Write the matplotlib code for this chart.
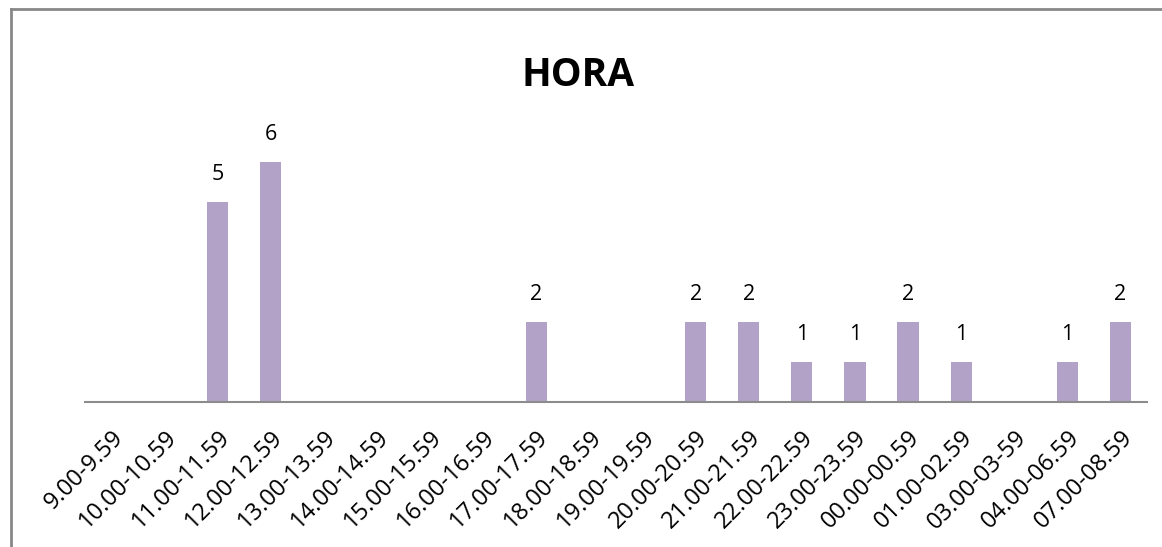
import matplotlib
matplotlib.use("Agg")
import matplotlib.pyplot as plt
from matplotlib.lines import Line2D

categories = ["9.00-9.59", "10.00-10.59", "11.00-11.59", "12.00-12.59", "13.00-13.59",
              "14.00-14.59", "15.00-15.59", "16.00-16.59", "17.00-17.59", "18.00-18.59",
              "19.00-19.59", "20.00-20.59", "21.00-21.59", "22.00-22.59", "23.00-23.59",
              "00.00-00.59", "01.00-02.59", "03.00-03-59", "04.00-06.59", "07.00-08.59"]
values = [0, 0, 5, 6, 0, 0, 0, 0, 2, 0, 0, 2, 2, 1, 1, 2, 1, 0, 1, 2]
title = "HORA"

plt.rcParams['font.family'] = ['Open Sans', 'DejaVu Sans']

fig = plt.figure(figsize=(11.62, 5.47), dpi=100)
ax = fig.add_axes([85/1162, 1-402/547, (1147-85)/1162, 280/547])

x = list(range(len(categories)))
bars = ax.bar(x, values, width=0.4, color="#B3A2C7", zorder=2)
for xi, v in zip(x, values):
    if v > 0:
        ax.annotate(str(v), (xi, v), xytext=(0, 12), textcoords="offset points",
                    ha="center", va="bottom", fontsize=15.5, color="black")

ax.set_xlim(-0.5, len(categories) - 0.5)
ax.set_ylim(0, 7)
ax.set_yticks([])
for s in ["top", "right", "left"]:
    ax.spines[s].set_visible(False)
ax.spines["bottom"].set_color("#8c8c8c")
ax.spines["bottom"].set_linewidth(1.5)
ax.set_xticks(x)
ax.set_xticklabels(categories, rotation=45, ha="right", rotation_mode="anchor", fontsize=17)
ax.tick_params(axis="x", length=0, pad=17)

fig.text(578/1162, 1-76/547, title, ha="center", va="center", fontsize=28, fontweight="bold")

# outer chart border (left and top visible)
fig.add_artist(Line2D([11/1162, 11/1162], [0, 1-9/547], transform=fig.transFigure,
                      color="#888888", linewidth=2))
fig.add_artist(Line2D([11/1162, 1], [1-9/547, 1-9/547], transform=fig.transFigure,
                      color="#888888", linewidth=2))

fig.savefig("out.png", dpi=100)
